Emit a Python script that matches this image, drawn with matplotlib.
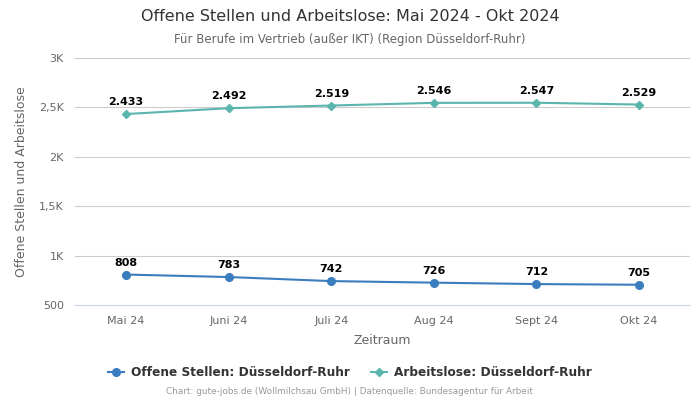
import matplotlib.pyplot as plt

months = ['Mai 24', 'Juni 24', 'Juli 24', 'Aug 24', 'Sept 24', 'Okt 24']
offene = [808, 783, 742, 726, 712, 705]
arbeitslose = [2433, 2492, 2519, 2546, 2547, 2529]
yticks = [500, 1000, 1500, 2000, 2500, 3000]
ytick_labels = ['500', '1K', '1,5K', '2K', '2,5K', '3K']

c_off = '#3a7ebf'
c_arb = '#5ab5ad'

fig = plt.figure(figsize=(7, 4), dpi=100)
ax = fig.add_axes([0.107, 0.2375, 0.879, 0.6175])

x = list(range(len(months)))
ax.plot(x, offene, color=c_off, marker='o', markersize=5.5, linewidth=1.5,
        label='Offene Stellen: Düsseldorf-Ruhr', zorder=3)
ax.plot(x, arbeitslose, color=c_arb, marker='D', markersize=3.8, linewidth=1.5,
        label='Arbeitslose: Düsseldorf-Ruhr', zorder=3)

for xi, v in zip(x, offene):
    ax.annotate(f'{v}', (xi, v), xytext=(0, 5), textcoords='offset points',
                ha='center', va='bottom', fontsize=8, fontweight='bold', color='black')
for xi, v in zip(x, arbeitslose):
    ax.annotate(f'{v:,}'.replace(',', '.'), (xi, v), xytext=(0, 5), textcoords='offset points',
                ha='center', va='bottom', fontsize=8, fontweight='bold', color='black')

ax.set_xlim(-0.5, len(months) - 0.5)
ax.set_ylim(500, 3000)
ax.set_yticks(yticks)
ax.set_yticklabels(ytick_labels)
ax.set_xticks(x)
ax.set_xticklabels(months)
ax.tick_params(axis='both', length=0, labelsize=8, colors='#666666', pad=8)
ax.grid(axis='y', color='#cccccc', linewidth=0.8)
ax.set_axisbelow(True)
for s in ['top', 'right', 'left']:
    ax.spines[s].set_visible(False)
ax.spines['bottom'].set_color('#ccd6eb')
ax.spines['bottom'].set_linewidth(0.8)

ax.set_xlabel('Zeitraum', fontsize=9, color='#666666', labelpad=6)
ax.set_ylabel('Offene Stellen und Arbeitslose', fontsize=9, color='#666666', labelpad=8)

fig.text(0.5, 0.958, 'Offene Stellen und Arbeitslose: Mai 2024 - Okt 2024',
         ha='center', va='center', fontsize=11.5, color='#333333')
fig.text(0.5, 0.902, 'Für Berufe im Vertrieb (außer IKT) (Region Düsseldorf-Ruhr)',
         ha='center', va='center', fontsize=8.5, color='#666666')

leg = fig.legend(loc='center', bbox_to_anchor=(0.5, 0.068), ncol=2, frameon=False,
                 prop={'size': 8.7, 'weight': 'bold'}, handlelength=1.3,
                 handletextpad=0.6, columnspacing=1.8)
for t in leg.get_texts():
    t.set_color('#333333')

fig.text(0.5, 0.02, 'Chart: gute-jobs.de (Wollmilchsau GmbH) | Datenquelle: Bundesagentur für Arbeit',
         ha='center', va='center', fontsize=6.4, color='#999999')

fig.savefig('out.png', dpi=100)
